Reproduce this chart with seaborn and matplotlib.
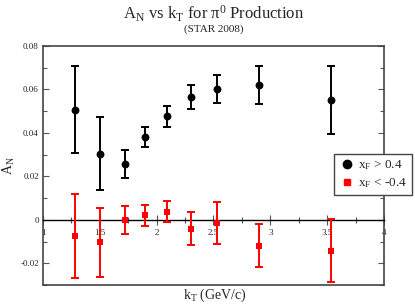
import numpy as np
import pandas as pd
import seaborn as sns
import matplotlib.pyplot as plt
from matplotlib.lines import Line2D
from matplotlib.ticker import MultipleLocator, FuncFormatter

kt = [1.28, 1.50, 1.72, 1.90, 2.09, 2.30, 2.53, 2.90, 3.53]
an_pos = [0.0506, 0.0305, 0.0258, 0.0381, 0.0477, 0.0566, 0.0603, 0.0621, 0.0552]
err_pos = [0.0200, 0.0166, 0.0064, 0.0047, 0.0048, 0.0055, 0.0064, 0.0089, 0.0155]
an_neg = [-0.0075, -0.0104, 0.0000, 0.0020, 0.0038, -0.0041, -0.0013, -0.0119, -0.0142]
err_neg = [0.0195, 0.0158, 0.0065, 0.0049, 0.0048, 0.0076, 0.0097, 0.0099, 0.0145]

df = pd.DataFrame({'kt': kt, 'pos': an_pos, 'epos': err_pos, 'neg': an_neg, 'eneg': err_neg})

sns.set_style('ticks')
plt.rcParams['font.family'] = ['Liberation Serif', 'DejaVu Serif']
plt.rcParams['mathtext.fontset'] = 'custom'
plt.rcParams['mathtext.rm'] = 'Liberation Serif'
plt.rcParams['mathtext.it'] = 'Liberation Serif:italic'

fig = plt.figure(figsize=(4.15, 3.06), dpi=100)
ax = fig.add_axes([0.1036, 0.0686, 0.8217, 0.7811])

# error bars
ax.errorbar(df['kt'], df['pos'], yerr=df['epos'], fmt='none', ecolor='black',
            elinewidth=1.4, capsize=2.6, capthick=1.4, zorder=3)
ax.errorbar(df['kt'], df['neg'], yerr=df['eneg'], fmt='none', ecolor='red',
            elinewidth=1.4, capsize=2.6, capthick=1.4, zorder=3)

# markers
sns.scatterplot(data=df, x='kt', y='pos', ax=ax, color='black', marker='o',
                s=32, edgecolor='black', linewidth=0, zorder=4)
sns.scatterplot(data=df, x='kt', y='neg', ax=ax, color='red', marker='s',
                s=22, edgecolor='red', linewidth=0, zorder=4)

ax.set_xlim(1, 4)
ax.set_ylim(-0.03, 0.08)

# x axis drawn on the zero line
ax.spines['bottom'].set_position(('data', 0))
ax.spines['bottom'].set_color('black')
ax.spines['bottom'].set_linewidth(1.0)
ax.axhline(-0.03, color='#444444', lw=1.2, zorder=5, clip_on=False)
for s in ['left', 'right', 'top']:
    ax.spines[s].set_color('#444444')
    ax.spines[s].set_linewidth(1.2)

ax.xaxis.set_major_locator(MultipleLocator(0.5))
ax.xaxis.set_minor_locator(MultipleLocator(0.25))
ax.yaxis.set_major_locator(MultipleLocator(0.02))
ax.yaxis.set_minor_locator(MultipleLocator(0.01))
ax.xaxis.set_major_formatter(FuncFormatter(lambda v, p: f'{v:g}'))
ax.yaxis.set_major_formatter(FuncFormatter(lambda v, p: '0' if abs(v) < 1e-9 else f'{v:.2f}'))

ax.tick_params(axis='x', which='major', direction='inout', length=7, width=0.8,
               color='#555555', labelsize=6.5, pad=3)
ax.tick_params(axis='x', which='minor', direction='inout', length=5, width=0.8,
               color='#555555')
ax.tick_params(axis='y', which='major', direction='in', length=4, width=0.8,
               color='#555555', labelsize=6.5, right=True, pad=3)
ax.tick_params(axis='y', which='minor', direction='in', length=3, width=0.8,
               color='#555555', right=True)

ax.set_xlabel('')
fig.text(0.518, 1 - 295 / 306, 'k$_{\\rm T}$ (GeV/c)', ha='center', va='center', fontsize=10)
ax.set_ylabel('A$_{\\rm N}$', fontsize=10, labelpad=2)

fig.text(0.515, 0.955, 'A$_{\\rm N}$ vs k$_{\\rm T}$ for \u03c0$^{0}$ Production',
         ha='center', va='center', fontsize=12)
fig.text(0.515, 0.905, '(STAR 2008)', ha='center', va='center', fontsize=8)

handles = [
    Line2D([], [], marker='o', color='black', linestyle='none', markersize=6),
    Line2D([], [], marker='s', color='red', linestyle='none', markersize=4.5),
]
leg = ax.legend(handles, ['x$_{\\rm F}$ > 0.4', 'x$_{\\rm F}$ < -0.4'],
                loc='upper left', bbox_to_anchor=(334 / 415, 1 - 154 / 306),
                bbox_transform=fig.transFigure, borderaxespad=0, fancybox=False,
                framealpha=1, edgecolor='#444444', fontsize=9.5, handletextpad=0.3,
                handlelength=1.2, borderpad=0.35, labelspacing=0.3)
leg.get_frame().set_linewidth(1.0)
leg.set_zorder(10)

fig.savefig('out.png', dpi=100)
